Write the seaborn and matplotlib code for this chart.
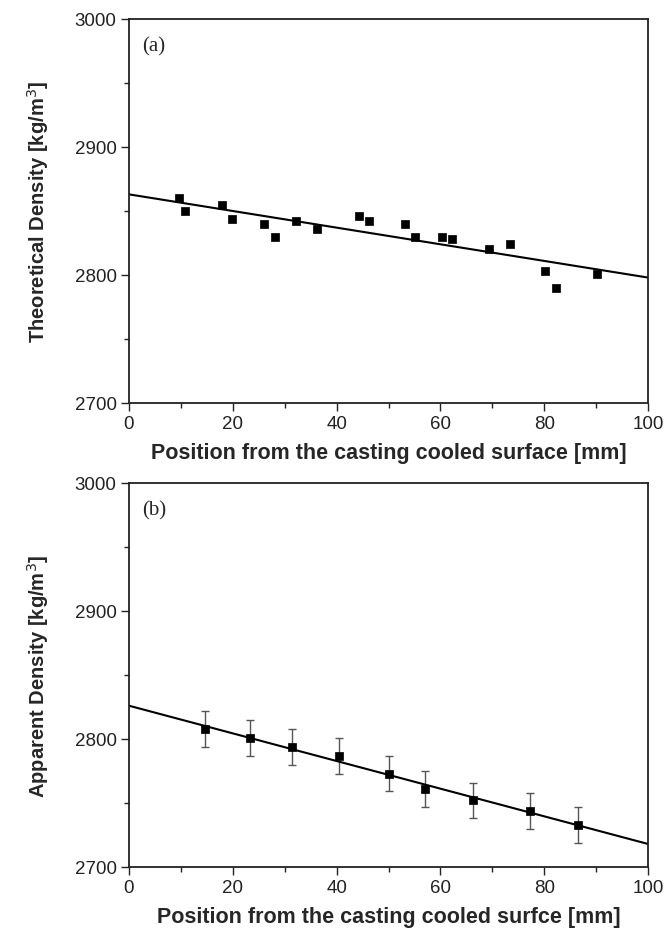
import numpy as np
import pandas as pd
import matplotlib
matplotlib.use("Agg")
import matplotlib.pyplot as plt
import seaborn as sns
from matplotlib.ticker import MultipleLocator

# panel (a): theoretical density
pos_a = [9.6, 10.7, 17.9, 19.8, 26.1, 28.1, 32.2, 36.2, 44.3, 46.3,
         53.2, 55.2, 60.3, 62.2, 69.4, 73.5, 80.1, 82.2, 90.1]
dens_a = [2860, 2850, 2855, 2844, 2840, 2830, 2842, 2836, 2846, 2842,
          2840, 2830, 2830, 2828, 2820, 2824, 2803, 2790, 2801]
fit_a = [2863, 2798]  # line at x=0 and x=100

# panel (b): apparent density with error bars
pos_b = [14.6, 23.3, 31.5, 40.5, 50.0, 57.0, 66.2, 77.2, 86.5]
dens_b = [2808, 2801, 2794, 2787, 2773, 2761, 2752, 2744, 2733]
err_b = [14, 14, 14, 14, 14, 14, 14, 14, 14]
fit_b = [2826, 2718]

sns.set_style("white")
plt.rcParams['font.family'] = ['Liberation Sans', 'DejaVu Sans']

fig = plt.figure(figsize=(6.67, 9.29), dpi=100)
W, H = 667, 929
ax1 = fig.add_axes([129 / W, 1 - 404 / H, 519 / W, 384 / H])
ax2 = fig.add_axes([129 / W, 1 - 868 / H, 519 / W, 384 / H])

df_a = pd.DataFrame({"pos": pos_a, "dens": dens_a})
df_b = pd.DataFrame({"pos": pos_b, "dens": dens_b, "err": err_b})

sns.lineplot(x=[0, 100], y=fit_a, ax=ax1, color="black", lw=1.5)
sns.scatterplot(data=df_a, x="pos", y="dens", ax=ax1, marker="s", s=40,
                color="black", edgecolor="black", zorder=3)

ax2.errorbar(df_b["pos"], df_b["dens"], yerr=df_b["err"], fmt="none",
             ecolor="#555555", elinewidth=1, capsize=3, capthick=1, zorder=2)
sns.lineplot(x=[0, 100], y=fit_b, ax=ax2, color="black", lw=1.5)
sns.scatterplot(data=df_b, x="pos", y="dens", ax=ax2, marker="s", s=40,
                color="black", edgecolor="black", zorder=3)

labels = [("Theoretical Density [kg/m$^3$]",
           "Position from the casting cooled surface [mm]", "(a)"),
          ("Apparent Density [kg/m$^3$]",
           "Position from the casting cooled surfce [mm]", "(b)")]

for ax, (yl, xl, tag) in zip([ax1, ax2], labels):
    ax.set_xlim(0, 100)
    ax.set_ylim(2700, 3000)
    ax.xaxis.set_major_locator(MultipleLocator(20))
    ax.xaxis.set_minor_locator(MultipleLocator(10))
    ax.yaxis.set_major_locator(MultipleLocator(100))
    ax.yaxis.set_minor_locator(MultipleLocator(50))
    ax.tick_params(which="major", direction="out", length=6, width=1,
                   labelsize=13.5, bottom=True, left=True, colors="#222222")
    ax.tick_params(which="minor", direction="out", length=3.5, width=1,
                   bottom=True, left=True, colors="#222222")
    ax.tick_params(axis="both", pad=3)
    for sp in ax.spines.values():
        sp.set_linewidth(1.3)
        sp.set_color("#222222")
    ax.set_xlabel(xl, fontsize=15.5, fontweight="bold", labelpad=7)
    ax.set_ylabel(yl, fontsize=14.5, fontweight="bold", labelpad=17)
    ax.text(0.025, 0.955, tag, transform=ax.transAxes, fontsize=15,
            family="Liberation Serif", va="top", ha="left")

fig.savefig("out.png", dpi=100)
